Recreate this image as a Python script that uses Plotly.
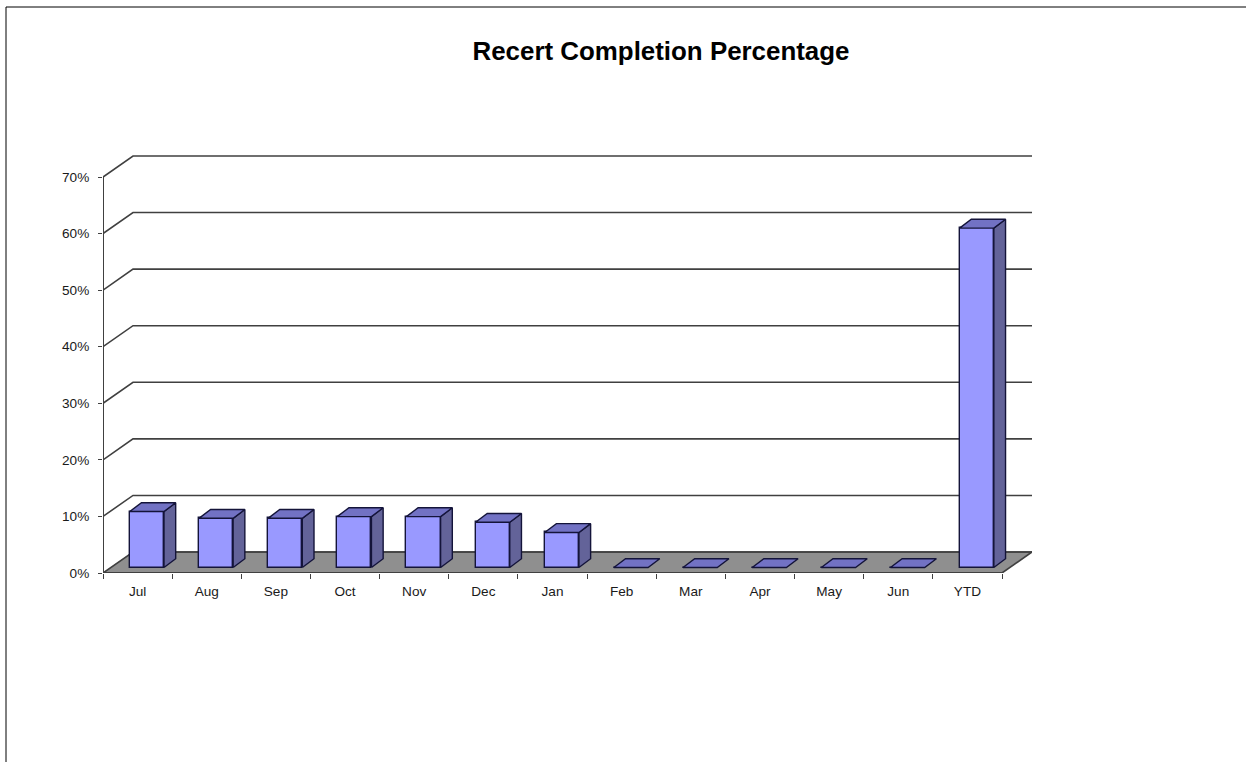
import plotly.graph_objects as go

categories = ["Jul", "Aug", "Sep", "Oct", "Nov", "Dec", "Jan", "Feb", "Mar", "Apr", "May", "Jun", "YTD"]
values = [9.9, 8.7, 8.7, 9.0, 9.0, 8.0, 6.2, 0, 0, 0, 0, 0, 60.0]
y_ticks = [0, 10, 20, 30, 40, 50, 60, 70]
title = "Recert Completion Percentage"

W, H = 1246, 762
L, R, T, B = 103, 1032, 146, 573  # plot box in pixels, with headroom above the back wall
n = len(categories)
y_top = y_ticks[-1]
cat_px = (1002 - L) / n
pct_px = (B - 177) / y_top
DX = 30 / cat_px      # depth of the floor, in category units
DY = 21 / pct_px      # depth of the floor, in percent units
FX0, FX1 = 0.31, 0.70   # bars occupy this slice of the depth
FY0, FY1 = 0.26, 0.68
BW = 0.495

AXC = "#404040"
EDGE = "#14143a"
FONT = "Liberation Sans"

def polys(items):
    xs, ys = [], []
    for p in items:
        xs += [q[0] for q in p] + [p[0][0], None]
        ys += [q[1] for q in p] + [p[0][1], None]
    return xs, ys

fig = go.Figure()

# floor
fx, fy = polys([[(0, 0), (n, 0), (n + DX, DY), (DX, DY)]])
fig.add_trace(go.Scatter(x=fx, y=fy, mode="lines", fill="toself", fillcolor="#8f8f8f",
                         line=dict(color="#8f8f8f", width=0.5), hoverinfo="skip", cliponaxis=False))
# gridlines on the wall
gx, gy = [], []
for v in y_ticks:
    if v == 0:
        gx += [DX, n + DX, None]
        gy += [DY, DY, None]
    gx += [0, DX, n + DX, None]
    gy += [v, v + DY, v + DY, None]
fig.add_trace(go.Scatter(x=gx, y=gy, mode="lines", line=dict(color=AXC, width=1.6),
                         hoverinfo="skip", cliponaxis=False))
# front axes
fig.add_trace(go.Scatter(x=[0, 0, n], y=[y_top, 0, 0], mode="lines", line=dict(color=AXC, width=2),
                         hoverinfo="skip", cliponaxis=False))
fig.add_trace(go.Scatter(x=[n, n + DX], y=[0, DY], mode="lines", line=dict(color=AXC, width=1.6),
                         hoverinfo="skip", cliponaxis=False))

# bars on the overlay axes
centers = [i + 0.5 + FX0 * DX for i in range(n)]
lefts = [c - BW / 2 for c in centers]
rights = [c + BW / 2 for c in centers]
b0 = FY0 * DY
ddx = (FX1 - FX0) * DX
ddy = (FY1 - FY0) * DY

fig.add_trace(go.Bar(x=centers, y=values, base=[b0] * n, width=BW, xaxis="x2", yaxis="y2",
                     marker=dict(color="#9999ff", line=dict(color=EDGE, width=1.4)),
                     hovertext=categories, cliponaxis=False))
side = [[(r, b0), (r + ddx, b0 + ddy), (r + ddx, b0 + ddy + v), (r, b0 + v)]
        for r, v in zip(rights, values) if v > 0]
sx, sy = polys(side)
fig.add_trace(go.Scatter(x=sx, y=sy, xaxis="x2", yaxis="y2", mode="lines", fill="toself", fillcolor="#636399",
                         line=dict(color=EDGE, width=1.4), hoverinfo="skip", cliponaxis=False))
top = [[(l, b0 + v), (r, b0 + v), (r + ddx, b0 + v + ddy), (l + ddx, b0 + v + ddy)]
       for l, r, v in zip(lefts, rights, values)]
tx, ty = polys(top)
fig.add_trace(go.Scatter(x=tx, y=ty, xaxis="x2", yaxis="y2", mode="lines", fill="toself", fillcolor="#7272c4",
                         line=dict(color=EDGE, width=1.4), hoverinfo="skip", cliponaxis=False))

xr = [0, n + DX]
yr = [0, (B - T) / pct_px]
px = lambda v: (v - L) / (R - L)
py = lambda v: (B - v) / (B - T)

fig.update_layout(
    width=W, height=H, autosize=False, showlegend=False, bargap=0,
    paper_bgcolor="white", plot_bgcolor="white",
    margin=dict(l=L, r=W - R, t=T, b=H - B, pad=0, autoexpand=False),
    font=dict(family=FONT, size=13.6, color="#1a1a1a"),
    title=dict(text=f"<b>{title}</b>", x=661 / W, y=1 - 51 / H, xanchor="center", yanchor="middle",
               xref="container", yref="container",
               font=dict(family=FONT, size=25.9, color="black")),
    xaxis=dict(range=xr, showgrid=False, zeroline=False, showline=False,
               tickmode="array", tickvals=[i + 0.5 for i in range(n)], ticktext=categories,
               ticks="", ticklen=0, ticklabelstandoff=8,
               minor=dict(tickmode="array", tickvals=list(range(n + 1)), ticks="outside",
                          ticklen=5, tickwidth=1.2, tickcolor=AXC, showgrid=False)),
    yaxis=dict(range=yr, showgrid=False, zeroline=False, showline=False,
               tickmode="array", tickvals=y_ticks, ticktext=[f"{v}%" for v in y_ticks],
               ticks="outside", ticklen=4, tickwidth=1.2, tickcolor=AXC, ticklabelstandoff=6),
    xaxis2=dict(range=xr, overlaying="x", visible=False, anchor="y2"),
    yaxis2=dict(range=yr, overlaying="y", visible=False, anchor="x2"),
    shapes=[dict(type="line", xref="paper", yref="paper", x0=px(6), x1=px(6), y0=py(7), y1=py(H),
                 line=dict(color="black", width=1)),
            dict(type="line", xref="paper", yref="paper", x0=px(6), x1=px(W), y0=py(7), y1=py(7),
                 line=dict(color="black", width=1))],
)

fig.write_html("out.html", config={"displayModeBar": False},
               post_script="document.body.style.margin='0';document.documentElement.style.overflow='hidden';")
